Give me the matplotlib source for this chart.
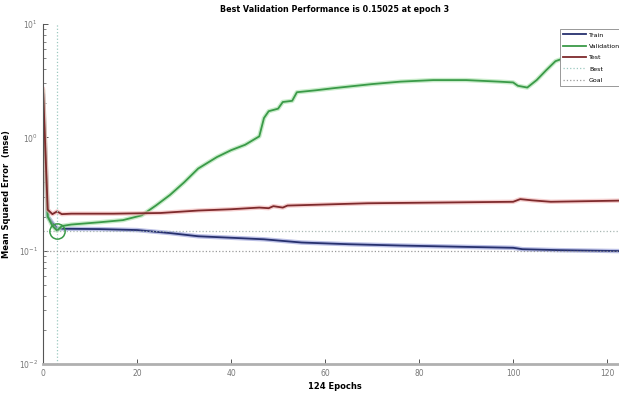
import matplotlib
matplotlib.use("Agg")
import matplotlib.pyplot as plt

# Training record
train_ep = [0, 1, 2, 3, 5, 12, 20, 27, 33, 40, 47, 55, 65, 76, 90, 100, 102, 110, 124]
train_mse = [2.4, 0.2, 0.175, 0.157, 0.156, 0.155, 0.152, 0.143, 0.134, 0.13, 0.126,
             0.118, 0.114, 0.111, 0.108, 0.106, 0.103, 0.101, 0.099]

val_ep = [0, 1, 2, 3, 4, 6, 12, 17, 21, 24, 27, 30, 33, 37, 40, 43, 46, 47, 48, 50,
          51, 53, 54, 58, 62, 70, 76, 83, 90, 97, 100, 101, 103, 105, 107, 109, 112, 124]
val_mse = [2.6, 0.2, 0.165, 0.15025, 0.165, 0.17, 0.178, 0.186, 0.205, 0.25, 0.31, 0.4,
           0.53, 0.67, 0.77, 0.86, 1.02, 1.48, 1.7, 1.79, 2.05, 2.1, 2.5, 2.6, 2.72,
           2.95, 3.1, 3.2, 3.2, 3.1, 3.05, 2.85, 2.75, 3.2, 3.9, 4.7, 5.2, 6.0]

test_ep = [0, 1, 2, 3, 4, 6, 15, 25, 33, 40, 46, 48, 49, 51, 52, 55, 69, 85, 100,
           101.5, 104, 108, 124]
test_mse = [2.7, 0.23, 0.21, 0.222, 0.21, 0.212, 0.212, 0.215, 0.226, 0.232, 0.24,
            0.237, 0.247, 0.24, 0.25, 0.252, 0.262, 0.266, 0.27, 0.285, 0.278, 0.27, 0.277]

best_epoch = 3
best_perf = 0.15025
goal = 0.1
n_epochs = 124

fig = plt.figure(figsize=(6.19, 4.0), dpi=100)
ax = fig.add_axes([43 / 619, 36 / 400, 583 / 619, 340 / 400])

series = [
    (train_ep, train_mse, "Train", "#26306e", "#8f97d6"),
    (val_ep, val_mse, "Validation", "#3a9a48", "#a6e0a8"),
    (test_ep, test_mse, "Test", "#7e2a2c", "#f0b0b0"),
]
handles = []
for ep, mse, name, col, halo in series:
    ax.plot(ep, mse, color=halo, lw=3.2, alpha=0.6, solid_capstyle="round")
    h, = ax.plot(ep, mse, color=col, lw=1.3, label=name)
    handles.append(h)

# best point and reference lines
h_best, = ax.plot([best_epoch, best_epoch], [0.01, 10], ls=":", color="#9cc9c0", lw=0.9,
                  label="Best")
ax.axhline(best_perf, ls=":", color="#a9b8b4", lw=0.9)
h_goal = ax.axhline(goal, ls=":", color="#9a9a9a", lw=0.9, label="Goal")
ax.plot([best_epoch], [best_perf], "o", mfc="none", mec="#3a9a48", ms=11, mew=1.1)
handles += [h_best, h_goal]

ax.set_yscale("log")
ax.set_ylim(0.01, 10)
ax.set_xlim(0, n_epochs)
ax.set_xticks([0, 20, 40, 60, 80, 100, 120])

for s in ["top", "right"]:
    ax.spines[s].set_visible(False)
ax.spines["left"].set_color("#555555")
ax.spines["left"].set_linewidth(0.8)
ax.spines["bottom"].set_color("#b0b0b0")
ax.spines["bottom"].set_linewidth(2)

ax.tick_params(axis="both", which="both", direction="in", colors="#555555",
               labelcolor="#777777", labelsize=5.5)
ax.tick_params(axis="both", which="major", length=3.5, width=0.7)
ax.tick_params(axis="y", which="minor", length=2, width=0.5)

ax.set_title("Best Validation Performance is 0.15025 at epoch 3", fontsize=5.8,
             fontweight="bold", pad=9)
ax.set_xlabel("124 Epochs", fontsize=6.0, fontweight="bold", labelpad=3)
ax.set_ylabel("Mean Squared Error  (mse)", fontsize=6.0, fontweight="bold", labelpad=6)

leg = ax.legend(handles=handles, loc="upper right", bbox_to_anchor=(1.012, 1 - 26 / 400),
                bbox_transform=fig.transFigure, fontsize=4.5, fancybox=False,
                framealpha=1, edgecolor="#888888", handlelength=3.6, labelspacing=0.95,
                borderpad=0.5, handletextpad=0.5)
leg.get_frame().set_linewidth(0.6)

fig.savefig("out.png", dpi=100)
